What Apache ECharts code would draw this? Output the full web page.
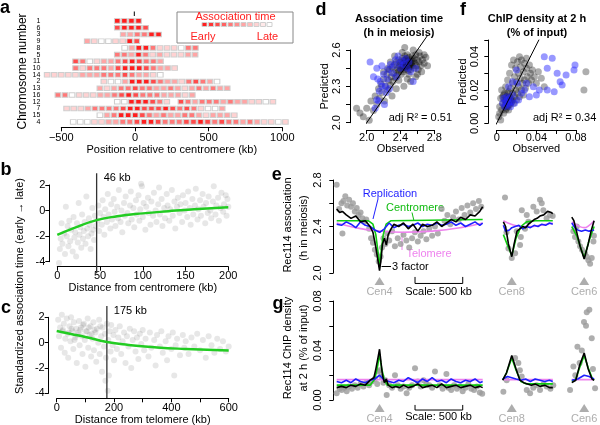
<!DOCTYPE html>
<html>
<head>
<meta charset="utf-8">
<script src="https://cdn.jsdelivr.net/npm/echarts@6/dist/echarts.min.js"></script>
<style>
html, body { margin: 0; padding: 0; background: #fff; }
#main { width: 600px; height: 425px; }
</style>
</head>
<body>
<div id="main"></div>
<script>
const FONT = '"Liberation Sans", Arial, sans-serif';

// ---- a: association time along each chromosome (levels 0 = late/white .. 5 = early/red)
const chromOrder = ['1','6','3','9','8','5','11','10','14','2','13','16','12','7','15','4'];
const rowStart = [-140,-140,-100,-344,-90,-140,-423,-423,-616,-231,-258,-543,-140,-484,-258,-439];
const rowLevels = [
  [5,5,5,5],
  [4,5,5,5,4],
  [2,2,3,3,5,5],
  [2,1,0,0,1,1,5,4],
  [0,2,5,5,3,1,1,1,0,3,3],
  [3,3,2,5,3,1,2,1,1,1,2,2],
  [4,3,0,1,2,2,3,4,5,4,3,3,2],
  [3,1,3,3,3,2,4,5,5,5,4,3,2,2,1],
  [1,1,1,1,1,2,2,2,3,3,3,4,3,2,2,1,0],
  [1,0,0,2,5,5,5,4,3,2,2,1,3,4,3,2,0],
  [2,1,2,3,3,4,3,3,2,2,3,2,1,2,3,2,3,2,2],
  [3,3,0,1,1,1,2,2,3,4,5,4,3,3,3,2,2,2,1,2],
  [0,0,5,5,5,4,3,1,null,4,3,2,3,3,3,2,3,2,2,1,1,0,1],
  [1,1,1,2,3,3,3,3,4,5,5,4,4,4,5,4,3,4,3,1,0,0,2],
  [0,2,3,5,5,5,4,3,2,3,2,2,3,3,2,1,2,2,2,1],
  [0,0,0,1,1,2,2,3,3,4,5,5,4,3,3,3,4,4,5,4,3,4,3,3,2,3,2,1,1,0,1]
];
const binKb = 48;
const keyLevels = [5,4.5,4,3.5,3,2.5,2,1.5,1,0.5,0];

// ---- b: distance from centromere vs standardized time
const bDots = [[2,-4.1],[3,-3.0],[4,-2.2],[5,-1.0],[6,-2.6],[8,-1.8],[9,-3.4],[10,0.3],[11,-2.0],[12,-1.2],[13,-2.8],[14,-0.8],[15,-2.4],[16,-1.5],[18,-3.2],[19,-0.5],[20,-2.1],[21,-1.7],[22,-3.6],[23,-1.0],[24,-2.5],[25,0.6],[26,-1.9],[27,-1.3],[28,-2.9],[29,-0.3],[30,-2.2],[31,-1.6],[32,-0.9],[33,-2.6],[34,1.1],[35,-1.4],[36,-2.0],[37,-0.6],[38,-1.1],[39,-3.0],[40,-1.8],[41,0.2],[42,-1.5],[43,-2.3],[44,-0.4],[45,-1.2],[47,-0.8],[48,0.4],[49,-1.6],[50,-0.2],[52,-1.1],[53,0.8],[54,-0.5],[55,-1.9],[56,0.1],[58,-0.9],[59,1.3],[60,-0.3],[62,-1.4],[63,0.5],[64,-0.7],[66,0.9],[67,-0.1],[68,-1.2],[70,0.3],[71,-0.6],[72,1.6],[74,-0.9],[75,0.0],[76,-1.7],[78,0.6],[79,-0.4],[80,1.1],[82,-0.2],[83,-1.0],[85,0.4],[86,1.5],[87,-0.7],[89,0.2],[90,-1.3],[92,0.8],[93,-0.3],[95,1.2],[96,-0.8],[97,0.1],[98,2.1],[99,1.9],[100,-0.5],[101,0.6],[103,-1.5],[104,0.3],[106,1.0],[107,-0.2],[109,-1.1],[110,0.7],[112,-0.4],[113,1.4],[115,0.0],[116,-0.9],[118,0.5],[119,1.8],[120,-0.3],[122,0.9],[123,-1.2],[125,0.2],[126,-0.6],[128,1.3],[129,0.4],[131,-0.8],[132,0.1],[134,1.6],[135,-0.4],[137,0.7],[138,-1.4],[140,0.3],[141,1.0],[143,-0.2],[144,0.5],[146,-0.9],[147,1.2],[149,0.0],[150,0.6],[152,-0.5],[153,1.5],[155,0.2],[156,-1.1],[158,0.9],[159,-0.3],[161,0.4],[162,1.7],[164,-0.7],[165,0.1],[167,0.8],[168,-0.4],[170,1.3],[171,0.3],[173,-1.0],[174,0.6],[176,-0.2],[177,1.1],[179,0.0],[180,-0.6],[182,0.7],[183,1.9],[185,-0.3],[186,0.4],[188,1.0],[189,-0.8],[191,0.2],[192,1.4],[194,-0.1],[195,0.5],[197,1.2],[198,-0.4],[199,0.9],[200,0.3]];
const bFit = [[0,-1.9],[20,-1.35],[46,-0.75],[70,-0.45],[100,-0.22],[130,-0.05],[160,0.1],[200,0.25]];
const bCut = 46;

// ---- c: distance from telomere vs standardized time
const cDots = [[5,1.8],[8,0.5],[12,1.2],[15,-0.4],[18,2.2],[20,0.9],[22,1.0],[25,1.5],[28,-0.8],[30,0.3],[35,1.9],[38,0.7],[40,-1.2],[42,0.8],[45,1.3],[48,0.1],[50,2.0],[52,1.1],[55,0.9],[58,-0.5],[60,1.6],[62,0.2],[65,0.4],[68,1.1],[70,-1.6],[72,0.6],[75,0.8],[78,1.7],[80,-0.2],[82,1.0],[85,1.2],[88,0.5],[90,-0.9],[92,1.4],[95,1.5],[98,0.2],[100,-1.9],[102,0.9],[105,0.9],[108,1.9],[110,-0.4],[112,1.2],[115,0.6],[118,1.3],[120,-1.1],[122,0.7],[125,0.3],[128,1.6],[130,-0.6],[132,1.0],[135,0.8],[138,-1.5],[140,1.1],[145,0.0],[148,1.8],[150,-0.9],[152,1.3],[155,0.5],[158,-2.3],[160,1.2],[165,-0.3],[168,0.7],[170,-3.0],[172,-1.2],[175,1.5],[178,-3.8],[180,0.2],[182,-2.6],[185,0.9],[188,-0.7],[190,1.4],[195,-0.2],[198,0.6],[200,-1.4],[205,1.0],[210,-0.5],[215,0.4],[220,1.3],[225,-0.9],[230,0.1],[235,0.8],[240,-1.6],[245,0.5],[250,-0.3],[255,1.1],[260,-2.0],[265,0.2],[270,0.9],[275,-0.7],[280,0.4],[285,-1.3],[290,0.7],[295,-0.1],[300,1.0],[305,-0.6],[310,0.3],[320,-1.1],[325,0.8],[330,-0.4],[340,0.2],[345,-1.8],[350,0.6],[360,-0.3],[365,0.9],[370,-0.8],[380,0.1],[385,-1.4],[390,0.5],[400,-0.5],[405,0.8],[410,-2.6],[415,-0.2],[420,0.3],[430,-1.0],[440,0.6],[445,-0.4],[450,0.1],[460,-0.9],[470,0.4],[480,-0.3],[490,0.7],[500,-0.6],[510,0.2],[520,-1.2],[530,0.5],[540,-0.2],[550,-0.8],[560,0.3],[570,-0.5],[580,0.1],[590,-0.7],[600,-0.3]];
const cFit = [[0,0.92],[50,0.68],[100,0.45],[175,0.05],[250,-0.18],[350,-0.38],[450,-0.5],[600,-0.63]];
const cCut = 175;

// ---- d: association time, observed vs predicted
const dGrey = [[1.88,2.12],[1.92,2.08],[1.96,2.05],[2.00,2.12],[2.03,2.02],[2.05,2.18],[2.08,2.10],[2.10,2.22],[2.12,2.15],[2.14,2.28],[2.15,2.20],[2.17,2.32],[2.18,2.25],[2.20,2.36],[2.21,2.18],[2.22,2.30],[2.24,2.40],[2.25,2.27],[2.26,2.35],[2.27,2.44],[2.28,2.31],[2.29,2.38],[2.30,2.46],[2.31,2.34],[2.32,2.41],[2.33,2.48],[2.34,2.37],[2.35,2.43],[2.35,2.50],[2.36,2.39],[2.37,2.45],[2.38,2.52],[2.38,2.42],[2.39,2.47],[2.40,2.44],[2.40,2.50],[2.41,2.40],[2.41,2.47],[2.42,2.53],[2.42,2.45],[2.43,2.49],[2.43,2.42],[2.44,2.51],[2.44,2.46],[2.45,2.55],[2.45,2.44],[2.46,2.48],[2.46,2.52],[2.47,2.45],[2.47,2.50],[2.48,2.47],[2.48,2.56],[2.49,2.43],[2.49,2.51],[2.50,2.48],[2.50,2.54],[2.51,2.46],[2.51,2.50],[2.52,2.52],[2.52,2.44],[2.53,2.49],[2.54,2.55],[2.54,2.47],[2.55,2.51],[2.56,2.45],[2.56,2.53],[2.57,2.49],[2.58,2.56],[2.59,2.47],[2.60,2.52],[2.61,2.44],[2.62,2.50],[2.63,2.55],[2.64,2.47],[2.66,2.52],[2.68,2.49],[2.70,2.54],[2.72,2.47],[2.45,2.62],[2.42,2.58],[2.55,2.60],[2.38,2.35],[2.50,2.40],[2.60,2.40],[2.35,2.28],[2.30,2.22],[2.48,2.36],[2.58,2.38],[2.65,2.42],[2.28,2.50],[2.25,2.45],[2.20,2.42],[2.33,2.55],[2.62,2.58],[2.68,2.56],[2.52,2.34],[2.44,2.30],[2.46,2.47],[2.48,2.50],[2.50,2.46],[2.44,2.49],[2.47,2.53],[2.52,2.48],[2.43,2.46],[2.49,2.47],[2.45,2.49],[2.47,2.46],[2.51,2.49],[2.46,2.51],[2.53,2.51]];
const dBlue = [[2.04,2.50],[2.08,2.38],[2.12,2.19],[2.10,2.12],[2.12,2.45],[2.13,2.36],[2.15,2.26],[2.16,2.34],[2.18,2.47],[2.20,2.40],[2.21,2.15],[2.22,2.30],[2.24,2.36],[2.25,2.44],[2.27,2.28],[2.28,2.48],[2.30,2.41],[2.32,2.47],[2.34,2.52],[2.35,2.38],[2.37,2.55],[2.39,2.49],[2.40,2.45],[2.42,2.51],[2.44,2.48],[2.46,2.53],[2.48,2.45],[2.50,2.50],[2.52,2.42],[2.55,2.34],[2.58,2.45],[2.18,2.30],[2.23,2.25],[2.14,2.18]];
const dDiag = [[1.97,1.97],[2.72,2.72]];

// ---- f: ChIP density, observed vs predicted
const fGrey = [[0.002,0.004],[0.003,0.010],[0.004,0.015],[0.005,0.008],[0.005,0.020],[0.006,0.012],[0.007,0.006],[0.007,0.017],[0.008,0.010],[0.008,0.014],[0.009,0.022],[0.009,0.008],[0.010,0.012],[0.010,0.016],[0.011,0.010],[0.011,0.026],[0.012,0.014],[0.012,0.019],[0.013,0.011],[0.013,0.030],[0.014,0.015],[0.014,0.021],[0.015,0.013],[0.015,0.035],[0.016,0.018],[0.016,0.024],[0.017,0.012],[0.017,0.038],[0.018,0.016],[0.018,0.028],[0.019,0.020],[0.019,0.033],[0.020,0.014],[0.020,0.025],[0.021,0.037],[0.021,0.018],[0.022,0.030],[0.022,0.022],[0.023,0.040],[0.023,0.016],[0.024,0.027],[0.024,0.034],[0.025,0.020],[0.025,0.038],[0.026,0.024],[0.027,0.031],[0.027,0.017],[0.028,0.036],[0.028,0.026],[0.029,0.021],[0.030,0.033],[0.030,0.039],[0.031,0.028],[0.032,0.024],[0.033,0.035],[0.034,0.030],[0.035,0.026],[0.036,0.032],[0.038,0.028],[0.040,0.024],[0.042,0.031],[0.045,0.027],[0.048,0.022],[0.006,0.016],[0.009,0.013],[0.011,0.018],[0.013,0.016],[0.010,0.009],[0.012,0.008],[0.014,0.012],[0.008,0.018],[0.016,0.014],[0.010,0.013],[0.012,0.011],[0.009,0.011],[0.011,0.013],[0.013,0.013],[0.010,0.014],[0.012,0.015],[0.014,0.014],[0.011,0.012],[0.088,0.020],[0.090,0.031],[0.004,0.002],[0.003,0.006]];
const fBlue = [[0.048,0.040],[0.056,0.039],[0.051,0.033],[0.061,0.030],[0.064,0.025],[0.079,0.035],[0.078,0.032],[0.043,0.020],[0.051,0.020],[0.058,0.019],[0.040,0.017],[0.037,0.022],[0.030,0.024],[0.033,0.016],[0.021,0.024],[0.022,0.014],[0.025,0.018],[0.028,0.020],[0.018,0.012],[0.016,0.017],[0.015,0.013],[0.014,0.010],[0.013,0.015],[0.012,0.012],[0.011,0.014],[0.010,0.011],[0.010,0.016],[0.009,0.013],[0.008,0.010],[0.007,0.015],[0.006,0.012],[0.012,0.022],[0.016,0.025],[0.020,0.032],[0.066,0.023],[0.070,0.029]];
const fDiag = [[-0.0007,-0.0008],[0.0427,0.0502]];

// ---- e / g: tracks along chr4, chr8, chr6 (kb from left end of each chromosome)
const chromOffset = { c4: 0, c8: 1730, c6: 2446 };
const cenKb = [449, 105, 148];
const cenNames = ['Cen4', 'Cen8', 'Cen6'];

const eDots4 = [[0,2.76],[25,2.55],[50,2.60],[60,2.34],[70,2.62],[90,2.66],[110,2.58],[130,2.63],[150,2.57],[170,2.60],[190,2.53],[210,2.56],[230,2.50],[250,2.52],[270,2.47],[290,2.44],[310,2.46],[340,2.38],[360,2.30],[380,2.26],[400,2.20],[420,2.16],[440,2.10],[460,2.14],[475,2.22],[490,2.30],[510,2.25],[530,2.34],[550,2.28],[580,2.36],[610,2.23],[640,2.30],[670,2.25],[700,2.33],[730,2.28],[760,2.22],[790,2.30],[820,2.35],[850,2.27],[880,2.32],[910,2.36],[940,2.29],[970,2.38],[1000,2.32],[1030,2.40],[1060,2.34],[1100,2.55],[1130,2.45],[1160,2.50],[1190,2.42],[1220,2.48],[1250,2.53],[1280,2.46],[1310,2.56],[1340,2.50],[1370,2.58],[1400,2.52],[1430,2.60],[1460,2.55],[1490,2.62],[1515,2.57]];
const eTel4 = [[0,2.43],[200,2.39],[400,2.365],[700,2.35],[1000,2.36],[1300,2.39],[1530,2.43]];
const eCen4 = [[0,2.45],[330,2.45],[380,2.42],[410,2.33],[430,2.20],[449,2.05],[468,2.20],[488,2.33],[518,2.42],[570,2.45],[1530,2.46]];
const eRep4 = [[0,2.42],[50,2.41],[100,2.44],[150,2.42],[200,2.39],[250,2.44],[300,2.41],[350,2.40],[400,2.37],[450,2.35],[500,2.38],[550,2.43],[600,2.39],[650,2.41],[700,2.42],[750,2.40],[800,2.41],[850,2.43],[900,2.40],[950,2.42],[1000,2.41],[1050,2.43],[1100,2.41],[1150,2.42],[1200,2.44],[1250,2.41],[1300,2.43],[1350,2.40],[1400,2.42],[1450,2.44],[1500,2.41],[1530,2.43]];
const eFull4 = [[0,2.55],[30,2.52],[60,2.53],[100,2.50],[150,2.47],[200,2.49],[250,2.44],[300,2.45],[350,2.40],[380,2.35],[410,2.22],[430,2.12],[449,2.02],[465,2.12],[480,2.25],[500,2.30],[520,2.24],[540,2.33],[570,2.38],[600,2.42],[650,2.40],[700,2.43],[750,2.38],[800,2.42],[850,2.36],[900,2.42],[950,2.40],[1000,2.41],[1050,2.44],[1100,2.40],[1150,2.43],[1200,2.46],[1250,2.44],[1300,2.48],[1350,2.46],[1400,2.50],[1450,2.49],[1500,2.53],[1530,2.57]];
const eDots8 = [[34,2.65],[50,2.35],[70,2.21],[105,2.13],[140,2.17],[157,2.36],[192,2.24],[200,2.31],[210,2.54],[244,2.38],[262,2.50],[279,2.44],[331,2.57],[366,2.53],[401,2.63],[419,2.60],[436,2.54],[470,2.47],[506,2.50],[534,2.49]];
const eTel8 = [[17,2.45],[100,2.42],[200,2.40],[300,2.40],[400,2.41],[535,2.43]];
const eCen8 = [[17,2.33],[60,2.24],[105,2.15],[150,2.30],[200,2.40],[260,2.44],[350,2.45],[535,2.45]];
const eRep8 = [[17,2.41],[40,2.36],[80,2.37],[105,2.39],[140,2.40],[180,2.41],[220,2.38],[260,2.40],[300,2.39],[340,2.41],[380,2.40],[420,2.42],[460,2.41],[500,2.43],[535,2.42]];
const eFull8 = [[17,2.44],[40,2.40],[70,2.25],[105,2.14],[130,2.25],[160,2.36],[190,2.38],[220,2.40],[250,2.39],[280,2.42],[310,2.44],[340,2.46],[370,2.47],[400,2.49],[440,2.50],[480,2.53],[520,2.52],[535,2.51]];
const eDots6 = [[35,2.36],[52,2.31],[70,2.40],[87,2.27],[105,2.23],[125,2.20],[157,2.17],[175,2.14],[192,2.11],[210,2.08],[227,2.13],[245,2.27],[250,2.32]];
const eTel6 = [[18,2.44],[100,2.40],[148,2.39],[200,2.41],[252,2.45]];
const eCen6 = [[18,2.40],[70,2.32],[148,2.13],[200,2.28],[252,2.40]];
const eRep6 = [[18,2.43],[50,2.39],[80,2.37],[120,2.36],[160,2.37],[200,2.36],[252,2.37]];
const eFull6 = [[18,2.48],[40,2.45],[70,2.35],[105,2.23],[148,2.12],[190,2.25],[220,2.36],[252,2.45]];

const gDots4 = [[0,0.0054],[30,0.009],[52,0.008],[80,0.010],[105,0.007],[130,0.011],[160,0.009],[190,0.012],[220,0.010],[250,0.013],[280,0.011],[310,0.014],[340,0.012],[370,0.015],[400,0.017],[425,0.013],[436,0.023],[449,0.024],[470,0.019],[490,0.014],[510,0.016],[524,0.004],[550,0.012],[580,0.010],[611,0.020],[640,0.012],[670,0.009],[700,0.011],[733,0.0054],[760,0.010],[790,0.012],[821,0.0256],[850,0.015],[880,0.011],[910,0.016],[940,0.013],[970,0.012],[1000,0.010],[1030,0.023],[1080,0.012],[1110,0.009],[1150,0.021],[1170,0.010],[1200,0.008],[1230,0.012],[1260,0.009],[1290,0.011],[1320,0.007],[1350,0.010],[1380,0.013],[1410,0.009],[1440,0.008],[1470,0.011],[1500,0.006],[1525,0.005]];
const gTel4 = [[0,0.0165],[1530,0.0165]];
const gCen4 = [[0,0.012],[350,0.012],[400,0.017],[430,0.028],[449,0.037],[470,0.026],[500,0.016],[530,0.012],[1530,0.012]];
const gRep4 = [[0,0.015],[50,0.014],[100,0.016],[150,0.014],[200,0.017],[250,0.015],[300,0.014],[350,0.016],[400,0.017],[449,0.020],[500,0.016],[550,0.015],[600,0.014],[650,0.016],[700,0.015],[750,0.018],[800,0.016],[850,0.014],[900,0.017],[950,0.015],[1000,0.018],[1050,0.015],[1100,0.016],[1150,0.014],[1200,0.017],[1250,0.015],[1300,0.014],[1350,0.016],[1400,0.015],[1450,0.017],[1500,0.014],[1530,0.015]];
const gFull4 = [[0,0.010],[50,0.011],[100,0.010],[150,0.012],[200,0.011],[250,0.013],[300,0.012],[350,0.016],[390,0.018],[410,0.025],[430,0.033],[449,0.041],[465,0.030],[480,0.020],[500,0.014],[520,0.017],[540,0.012],[580,0.010],[620,0.011],[660,0.010],[700,0.012],[750,0.010],[800,0.011],[850,0.013],[900,0.010],[950,0.011],[1000,0.012],[1050,0.010],[1100,0.013],[1150,0.010],[1200,0.011],[1250,0.012],[1300,0.010],[1350,0.011],[1400,0.012],[1450,0.010],[1500,0.011],[1530,0.010]];
const gDots8 = [[17,0.0067],[52,0.016],[140,0.034],[174,0.030],[190,0.024],[209,0.019],[262,0.008],[297,0.0054],[330,0.010],[365,0.012],[401,0.008],[440,0.013],[471,0.011],[510,0.009],[540,0.012]];
const gTel8 = [[10,0.0165],[535,0.0165]];
const gCen8 = [[10,0.016],[50,0.022],[105,0.034],[150,0.024],[200,0.015],[260,0.013],[535,0.013]];
const gRep8 = [[10,0.017],[60,0.019],[105,0.018],[150,0.017],[200,0.016],[250,0.017],[300,0.015],[350,0.017],[400,0.016],[450,0.015],[500,0.016],[535,0.015]];
const gFull8 = [[10,0.016],[50,0.022],[105,0.036],[150,0.025],[190,0.016],[230,0.014],[270,0.013],[310,0.012],[350,0.013],[400,0.011],[450,0.012],[500,0.010],[535,0.010]];
const gDots6 = [[0,0.008],[35,0.027],[55,0.020],[77,0.043],[100,0.030],[123,0.040],[146,0.063],[167,0.060],[175,0.071],[202,0.073],[227,0.050],[240,0.025],[262,0.0094]];
const gTel6 = [[18,0.0165],[252,0.0165]];
const gCen6 = [[18,0.015],[60,0.017],[100,0.026],[148,0.036],[190,0.026],[230,0.018],[252,0.016]];
const gRep6 = [[18,0.016],[80,0.017],[148,0.020],[200,0.019],[252,0.017]];
const gFull6 = [[18,0.014],[60,0.016],[100,0.028],[148,0.038],[190,0.025],[230,0.017],[252,0.016]];

const scaleBarKb = [821, 1321];

// ---------------------------------------------------------------
function heat(l) {
  const g = Math.round(255 - (l / 5) * 225);
  return 'rgb(255,' + g + ',' + g + ')';
}
function only(vals, digits, minus) {
  return function (v) {
    for (const t of vals) {
      if (Math.abs(v - t) < 1e-9) {
        let s = digits == null ? String(t) : t.toFixed(digits);
        if (minus) s = s.replace('-', '\u2212');
        return s;
      }
    }
    return '';
  };
}
function vAxis(grid, o) {
  return Object.assign({
    type: 'value', gridIndex: grid, splitLine: { show: false },
    axisLine: { show: true, onZero: false, lineStyle: { color: '#000', width: 1 } },
    axisTick: { show: true, length: 4, lineStyle: { color: '#000' } },
    nameTextStyle: { color: '#000', fontSize: 11, fontFamily: FONT }
  }, o);
}
function lab(o) {
  return Object.assign({ color: '#000', fontSize: 11, fontFamily: FONT }, o);
}
function shift(arr, off) { return arr.map(p => [p[0] + off, p[1]]); }

const heatData = [];
rowLevels.forEach((levels, r) => {
  levels.forEach((l, i) => {
    if (l === null) return;
    heatData.push({ value: [rowStart[r] + 20 + binKb * i, r], itemStyle: { color: heat(l) } });
  });
});

const series = [];
series.push({
  type: 'scatter', xAxisIndex: 0, yAxisIndex: 0, data: heatData, clip: false,
  symbol: 'rect', symbolSize: [5.6, 4.6],
  itemStyle: { borderColor: '#cfcfcf', borderWidth: 1, opacity: 1 }
});

// b
series.push({ type: 'scatter', xAxisIndex: 1, yAxisIndex: 1, data: bDots, clip: false, symbolSize: 6,
  itemStyle: { color: 'rgba(70,70,70,0.16)' } });
series.push({ type: 'line', xAxisIndex: 1, yAxisIndex: 1, data: [[bCut, -4.9], [bCut, 2.92]], clip: false,
  symbol: 'none', lineStyle: { color: '#333', width: 1.3 },
  endLabel: { show: true, formatter: bCut + ' kb', color: '#000', fontSize: 11, fontFamily: FONT, offset: [-1, 5] } });
series.push({ type: 'line', xAxisIndex: 1, yAxisIndex: 1, data: bFit, clip: false, smooth: true,
  symbol: 'none', lineStyle: { color: '#22cc22', width: 2.5 } });

// c
series.push({ type: 'scatter', xAxisIndex: 2, yAxisIndex: 2, data: cDots, clip: false, symbolSize: 6,
  itemStyle: { color: 'rgba(70,70,70,0.16)' } });
series.push({ type: 'line', xAxisIndex: 2, yAxisIndex: 2, data: [[cCut, -4.37], [cCut, 2.89]], clip: false,
  symbol: 'none', lineStyle: { color: '#333', width: 1.3 },
  endLabel: { show: true, formatter: cCut + ' kb', color: '#000', fontSize: 11, fontFamily: FONT, offset: [-1, 5] } });
series.push({ type: 'line', xAxisIndex: 2, yAxisIndex: 2, data: cFit, clip: false, smooth: true,
  symbol: 'none', lineStyle: { color: '#22cc22', width: 2.5 } });

// d
series.push({ type: 'scatter', xAxisIndex: 3, yAxisIndex: 3, data: dGrey, clip: false, symbolSize: 7,
  itemStyle: { color: 'rgba(15,15,15,0.45)' } });
series.push({ type: 'scatter', xAxisIndex: 3, yAxisIndex: 3, data: dBlue, clip: false, symbolSize: 7,
  itemStyle: { color: 'rgba(40,40,255,0.6)' } });
series.push({ type: 'line', xAxisIndex: 3, yAxisIndex: 3, data: dDiag, clip: false, symbol: 'none',
  lineStyle: { color: '#000', width: 1 } });

// f
series.push({ type: 'scatter', xAxisIndex: 4, yAxisIndex: 4, data: fGrey, clip: false, symbolSize: 7,
  itemStyle: { color: 'rgba(15,15,15,0.42)' } });
series.push({ type: 'scatter', xAxisIndex: 4, yAxisIndex: 4, data: fBlue, clip: false, symbolSize: 7,
  itemStyle: { color: 'rgba(40,40,255,0.6)' } });
series.push({ type: 'line', xAxisIndex: 4, yAxisIndex: 4, data: fDiag, clip: false, symbol: 'none',
  lineStyle: { color: '#000', width: 1 } });

// e, g tracks
const offs = [chromOffset.c4, chromOffset.c8, chromOffset.c6];
function tracks(ax, dots, tel, cen, rep, full) {
  dots.forEach((d, k) => series.push({ type: 'scatter', xAxisIndex: ax, yAxisIndex: ax, data: shift(d, offs[k]),
    clip: false, symbolSize: 6, itemStyle: { color: '#9a9a9a' } }));
  const sets = [[tel, '#ee82ee', true], [cen, '#11cc11', false], [rep, '#1f1fff', false], [full, '#000', false]];
  sets.forEach(([arrs, col, sm]) => arrs.forEach((d, k) => series.push({
    type: 'line', xAxisIndex: ax, yAxisIndex: ax, data: shift(d, offs[k]), clip: false, smooth: sm,
    symbol: 'none', lineStyle: { color: col, width: 1.6 } })));
}
tracks(5, [eDots4, eDots8, eDots6], [eTel4, eTel8, eTel6], [eCen4, eCen8, eCen6], [eRep4, eRep8, eRep6], [eFull4, eFull8, eFull6]);
tracks(6, [gDots4, gDots8, gDots6], [gTel4, gTel8, gTel6], [gCen4, gCen8, gCen6], [gRep4, gRep8, gRep6], [gFull4, gFull8, gFull6]);

// centromere markers and scale bars
[[5, 1.931, 1.966, 1.91], [6, -0.0065, -0.004, -0.0081]].forEach(([ax, yTri, yTop, yBar]) => {
  series.push({ type: 'scatter', xAxisIndex: ax, yAxisIndex: ax, clip: false, symbol: 'triangle', symbolSize: [10, 8],
    itemStyle: { color: '#999' },
    data: cenKb.map((c, k) => ({ value: [c + offs[k], yTri], name: cenNames[k] })),
    label: { show: true, position: 'bottom', distance: 1, formatter: '{b}', color: '#999', fontSize: 11, fontFamily: FONT } });
  series.push({ type: 'line', xAxisIndex: ax, yAxisIndex: ax, clip: false, symbol: 'none',
    lineStyle: { color: '#000', width: 1 },
    data: [[scaleBarKb[0], yTop], [scaleBarKb[0], yBar], [scaleBarKb[1], yBar], [scaleBarKb[1], yTop]] });
});

// ---------------------------------------------------------------
const grids = [
  { left: 61.3, top: 17.6, width: 221, height: 107.7 },
  { left: 57.3, top: 185, width: 171, height: 76.7 },
  { left: 56.7, top: 317.3, width: 172, height: 76 },
  { left: 366.7, top: 50, width: 67.6, height: 72.7 },
  { left: 496.7, top: 40, width: 79.3, height: 83.3 },
  { left: 336.7, top: 180, width: 257.6, height: 93 },
  { left: 336.7, top: 301, width: 257.6, height: 99 }
].map(g => Object.assign({ containLabel: false, outerBoundsMode: 'none' }, g));

const xAxes = [
  vAxis(0, { min: -500, max: 1000, interval: 500, offset: 2, axisLabel: lab({ margin: 5, formatter: only([-500, 0, 500, 1000], null, true) }),
    name: 'Position relative to centromere (kb)', nameLocation: 'middle', nameGap: 17 }),
  vAxis(1, { min: 0, max: 200, interval: 50, offset: 5, axisLabel: lab({ margin: 4 }),
    name: 'Distance from centromere (kb)', nameLocation: 'middle', nameGap: 14 }),
  vAxis(2, { min: 0, max: 600, interval: 100, offset: 5, axisLabel: lab({ margin: 4, formatter: only([0, 200, 400, 600]) }),
    name: 'Distance from telomere (kb)', nameLocation: 'middle', nameGap: 14 }),
  vAxis(3, { min: 2.0, max: 2.8, interval: 0.2, offset: 7.3, axisLabel: lab({ margin: 2, formatter: only([2.0, 2.4, 2.8], 1) }),
    name: 'Observed', nameLocation: 'middle', nameGap: 11 }),
  vAxis(4, { min: 0, max: 0.08, interval: 0.02, offset: 6.7, axisLabel: lab({ margin: 2, formatter: function (v) {
      return Math.abs(v) < 1e-9 ? '0' : only([0.04, 0.08], 2)(v); } }),
    name: 'Observed', nameLocation: 'middle', nameGap: 11 }),
  vAxis(5, { min: 0, max: 2700, show: false }),
  vAxis(6, { min: 0, max: 2700, show: false })
];
const yAxes = [
  { type: 'category', gridIndex: 0, data: chromOrder, inverse: true,
    axisLine: { show: false }, axisTick: { show: false }, splitLine: { show: false },
    axisLabel: lab({ fontSize: 7, margin: 21, interval: 0 }),
    name: 'Chromosome number', nameLocation: 'middle', nameGap: 33, nameRotate: 90,
    nameTextStyle: { color: '#000', fontSize: 12, fontFamily: FONT } },
  vAxis(1, { min: -4, max: 2, interval: 2, offset: 8, axisLabel: lab({ margin: 4 }) }),
  vAxis(2, { min: -4, max: 2, interval: 2, offset: 8, axisLabel: lab({ margin: 4 }) }),
  vAxis(3, { min: 2.0, max: 2.6, interval: 0.15, offset: 16.7, axisLabel: lab({ rotate: 90, margin: 8, formatter: only([2.0, 2.3, 2.6], 1) }),
    name: 'Predicted', nameLocation: 'middle', nameGap: 16, nameRotate: 90 }),
  vAxis(4, { min: 0, max: 0.05, interval: 0.01, offset: 8.4, axisLabel: lab({ rotate: 90, margin: 8, formatter: only([0, 0.02, 0.04], 2) }),
    name: 'Predicted', nameLocation: 'middle', nameGap: 16, nameRotate: 90 }),
  vAxis(5, { min: 2.0, max: 2.8, interval: 0.2, offset: 3.4, axisLabel: lab({ rotate: 90, margin: 10, formatter: only([2.0, 2.4, 2.8], 1) }) }),
  vAxis(6, { min: 0, max: 0.08, interval: 0.02, offset: 3.4, axisLabel: lab({ rotate: 90, margin: 10, formatter: only([0, 0.04, 0.08], 2) }) })
];

// ---------------------------------------------------------------
function txt(x, y, text, o) {
  const st = Object.assign({ text: text, fill: '#000', fontSize: 11, fontFamily: FONT,
    textAlign: 'center', align: 'center', textVerticalAlign: 'middle', verticalAlign: 'middle' }, o || {});
  const el = { type: 'text', x: x, y: y, silent: true, style: st };
  if (o && o.rot) el.rotation = o.rot;
  return el;
}
function seg(x1, y1, x2, y2, c) {
  return { type: 'line', silent: true, shape: { x1: x1, y1: y1, x2: x2, y2: y2 }, style: { stroke: c || '#000', lineWidth: 1 } };
}
const V = Math.PI / 2;
const graphics = [
  txt(5, 8, 'a', { fontSize: 18, fontWeight: 'bold' }),
  txt(6, 169.6, 'b', { fontSize: 18, fontWeight: 'bold' }),
  txt(6, 307.8, 'c', { fontSize: 18, fontWeight: 'bold' }),
  txt(321, 9.6, 'd', { fontSize: 18, fontWeight: 'bold' }),
  txt(463, 9.6, 'f', { fontSize: 18, fontWeight: 'bold' }),
  txt(276.7, 174.6, 'e', { fontSize: 18, fontWeight: 'bold' }),
  txt(278, 303.6, 'g', { fontSize: 18, fontWeight: 'bold' }),
  seg(134.3, 11.5, 134.3, 16),
  { type: 'rect', silent: true, shape: { x: 177, y: 12, width: 116, height: 31 }, style: { fill: 'none', stroke: '#888', lineWidth: 1 } },
  txt(235.5, 17, 'Association time', { fill: '#ff2020' }),
  txt(203, 36.7, 'Early', { fill: '#ff2020' }),
  txt(267.5, 36.7, 'Late', { fill: '#ff2020' }),
  txt(20, 286, 'Standardized association time (early \u2192 late)', { rot: V }),
  txt(288.3, 225, 'Rec114 association', { rot: V }),
  txt(303.5, 228, '(h in meiosis)', { rot: V }),
  txt(288.3, 348, 'Rec114 ChIP density', { rot: V }),
  txt(303.5, 348, 'at 2 h (% of input)', { rot: V }),
  txt(399, 19, 'Association time', { fontWeight: 'bold' }),
  txt(399, 33, '(h in meiosis)', { fontWeight: 'bold' }),
  txt(537, 19, 'ChIP density at 2 h', { fontWeight: 'bold' }),
  txt(537, 33, '(% of input)', { fontWeight: 'bold' }),
  txt(452, 118, 'adj R\u00b2 = 0.51', { textAlign: 'right', align: 'right' }),
  txt(533, 118, 'adj R\u00b2 = 0.34', { textAlign: 'left', align: 'left' }),
  txt(390, 194, 'Replication', { fill: '#1f1fff' }),
  seg(378, 199, 373, 219, '#1f1fff'),
  txt(415, 207.7, 'Centromere', { fill: '#11bb11' }),
  seg(412, 212.5, 414, 221, '#11bb11'),
  txt(429, 254.3, 'Telomere', { fill: '#ee82ee' }),
  seg(402, 250, 402, 233, '#ee82ee'),
  txt(392, 266.5, '3 factor', { textAlign: 'left', align: 'left' }),
  seg(381.5, 266.5, 391, 266.5),
  txt(438.5, 291.7, 'Scale: 500 kb'),
  txt(438.5, 417.3, 'Scale: 500 kb')
];
keyLevels.forEach((l, i) => {
  graphics.push({ type: 'rect', silent: true, shape: { x: 202 + i * 6.5, y: 22.5, width: 5, height: 4 },
    style: { fill: heat(l), stroke: '#cfcfcf', lineWidth: 1 } });
});

const chart = echarts.init(document.getElementById('main'), null, { renderer: 'canvas' });
chart.setOption({
  animation: false,
  backgroundColor: '#fff',
  textStyle: { fontFamily: FONT },
  grid: grids,
  xAxis: xAxes,
  yAxis: yAxes,
  series: series,
  graphic: graphics
});
</script>
</body>
</html>
